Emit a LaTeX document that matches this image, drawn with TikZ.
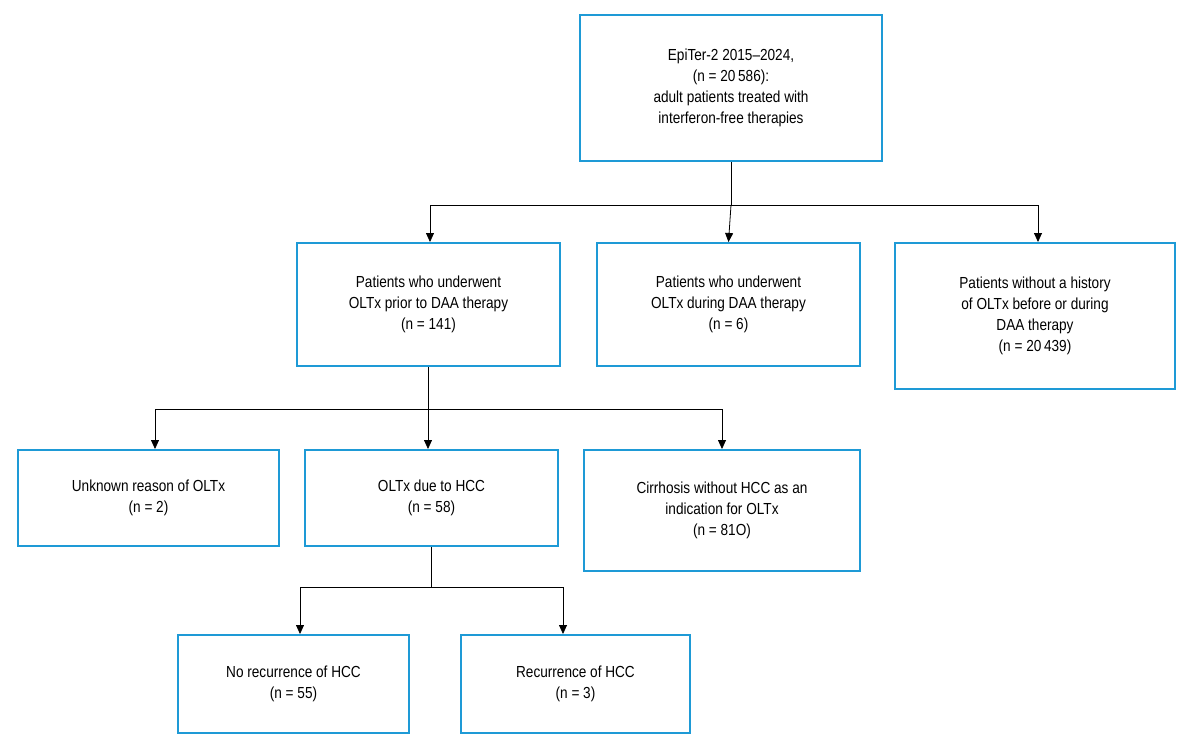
\documentclass[tikz,border=0pt]{standalone}
\usepackage{fontspec}
\setmainfont[FakeStretch=0.85]{Liberation Sans}
\usetikzlibrary{arrows.meta}
\definecolor{bx}{HTML}{1E9AD6}
\tikzset{box/.style={draw=bx,line width=2pt,align=center,inner sep=0pt,font=\fontsize{16}{21}\selectfont},
conn/.style={line width=0.8pt},
arr/.style={conn,-{Triangle[length=9pt,width=8pt]}}}
\begin{document}
\begin{tikzpicture}[x=1pt,y=-1pt]
\useasboundingbox (0,0) rectangle (1197,755);
\newcommand\bx[6]{\node[box,minimum width=#4-#2,minimum height=#5-#3] (#1) at ({(#2+#4)/2},{(#3+#5)/2}) {#6};}
\bx{top}{580}{15}{882}{161}{EpiTer-2 2015--2024,\\(n = 20\,586):\\adult patients treated with\\interferon-free therapies}
\bx{a}{297}{243}{560}{366}{Patients who underwent\\OLTx prior to DAA therapy\\(n = 141)}
\bx{b}{597}{243}{860}{366}{Patients who underwent\\OLTx during DAA therapy\\(n = 6)}
\bx{c}{895}{243}{1175}{389}{Patients without a history\\of OLTx before or during\\DAA therapy\\(n = 20\,439)}
\bx{d}{18}{450}{279}{546}{Unknown reason of OLTx\\(n = 2)}
\bx{e}{305}{450}{558}{546}{OLTx due to HCC\\(n = 58)}
\bx{f}{584}{450}{860}{571}{Cirrhosis without HCC as an\\indication for OLTx\\(n = 81O)}
\bx{g}{178}{635}{409}{733}{No recurrence of HCC\\(n = 55)}
\bx{h}{461}{635}{690}{733}{Recurrence of HCC\\(n = 3)}
\coordinate (j1) at (731,205);
\draw[conn] (top.south) -- (j1);
\draw[arr] (j1) -| (a.north -| 430,0);
\draw[arr] (j1) -- (b.north);
\draw[arr] (j1) -| (c.north -| 1038,0);
\coordinate (j2) at (428,409);
\draw[conn] (a.south -| j2) -- (j2);
\draw[arr] (j2) -| (d.north -| 155,0);
\draw[arr] (j2) -- (e.north -| j2);
\draw[arr] (j2) -| (f.north -| 722,0);
\coordinate (j3) at (431,587);
\draw[conn] (e.south -| j3) -- (j3);
\draw[arr] (j3) -| (g.north -| 300,0);
\draw[arr] (j3) -| (h.north -| 563,0);
\end{tikzpicture}
\end{document}
